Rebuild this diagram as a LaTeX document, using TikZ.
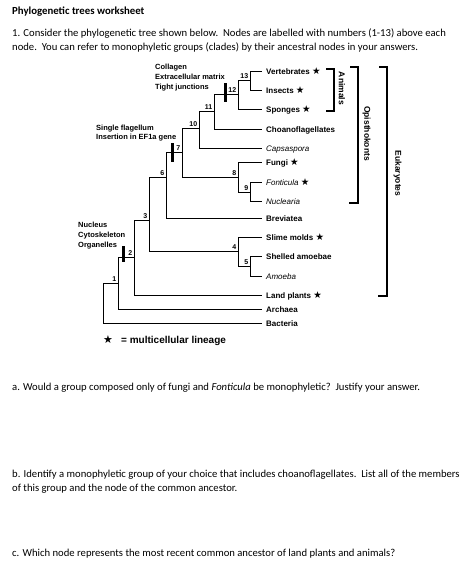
\documentclass[tikz,border=0pt]{standalone}
\usepackage{fontspec}
\setmainfont{Carlito}
\newfontfamily\arialfont{Liberation Sans}
\newfontfamily\symfont{DejaVu Sans}
\newcommand\mstar{{\symfont\fontsize{9.5}{9}\selectfont\char"2605}}
\begin{document}
\begin{tikzpicture}[x=1pt,y=-1pt,
  doc/.style={anchor=base west, inner sep=0, font=\fontsize{10.65}{12}\selectfont},
  leaf/.style={anchor=west, inner xsep=4pt, inner ysep=0, text height=6pt, text depth=0pt, font=\arialfont\bfseries\fontsize{8}{9}\selectfont},
  ileaf/.style={leaf, font=\arialfont\itshape\fontsize{8}{9}\selectfont},
  junc/.style={inner sep=0, minimum size=0},
  num/.style={font=\arialfont\bfseries\fontsize{7}{8}\selectfont, inner sep=1pt, label distance=0.5pt},
  edge/.style={line width=0.8pt},
  charbar/.style={line width=3pt},
  charlab/.style={anchor=west, inner sep=0, align=left, font=\arialfont\bfseries\fontsize{7.5}{9.6}\selectfont},
  brk/.style={line width=1.4pt},
  brklab/.style={rotate=-90, inner sep=0, font=\arialfont\bfseries\fontsize{8.5}{9}\selectfont}
]
\useasboundingbox[fill=white] (0,0) rectangle (474,563);

% document text
\node[doc, font=\bfseries\fontsize{10.8}{12}\selectfont] (title) at (12,14.5) {Phylogenetic trees worksheet};
\node[doc] (l1) at (12,36.5) {1. Consider the phylogenetic tree shown below.\ \ Nodes are labelled with numbers (1-13) above each};
\node[doc] (l2) at (12,50.5) {node.\ \ You can refer to monophyletic groups (clades) by their ancestral nodes in your answers.};
\node[doc] (qa) at (12,390.5) {a. Would a group composed only of fungi and \textit{Fonticula} be monophyletic?\ \ Justify your answer.};
\node[doc] (qb1) at (12,477.5) {b. Identify a monophyletic group of your choice that includes choanoflagellates.\ \ List all of the members};
\node[doc] (qb2) at (12,491) {of this group and the node of the common ancestor.};
\node[doc] (qc) at (12,556.5) {c. Which node represents the most recent common ancestor of land plants and animals?};

% leaves
\node[leaf] (vert) at (262,71) {Vertebrates \mstar};
\node[leaf] (insect) at (262,90) {Insects \mstar};
\node[leaf] (spong) at (262,109) {Sponges \mstar};
\node[leaf] (choano) at (262,129) {Choanoflagellates};
\node[ileaf] (caps) at (262,148) {Capsaspora};
\node[leaf] (fungi) at (262,162) {Fungi \mstar};
\node[ileaf] (fonti) at (262,182) {Fonticula \mstar};
\node[ileaf] (nucl) at (262,201) {Nuclearia};
\node[leaf] (brev) at (262,218) {Breviatea};
\node[leaf] (slime) at (262,237) {Slime molds \mstar};
\node[leaf] (shell) at (262,256) {Shelled amoebae};
\node[ileaf] (amoeba) at (262,276) {Amoeba};
\node[leaf] (plants) at (262,295) {Land plants \mstar};
\node[leaf] (arch) at (262,309) {Archaea};
\node[leaf] (bact) at (262,323) {Bacteria};

% internal nodes
\node[junc] (root) at (103,303) {};
\node[junc, label={[num]above left:1}] (n1) at (118,283) {};
\node[junc, label={[num]above left:2}] (n2) at (134,257) {};
\node[junc, label={[num]above left:3}] (n3) at (149,220) {};
\node[junc, label={[num]above left:4}] (n4) at (238,251) {};
\node[junc, label={[num]above left:5}] (n5) at (250,266) {};
\node[junc, label={[num]above left:6}] (n6) at (166,177) {};
\node[junc, label={[num]above left:7}] (n7) at (182,152) {};
\node[junc, label={[num]above left:8}] (n8) at (238,177) {};
\node[junc, label={[num]above left:9}] (n9) at (250,192) {};
\node[junc, label={[num]above left:10}] (n10) at (199,128) {};
\node[junc, label={[num]above left:11}] (n11) at (214,111) {};
\node[junc, label={[num]above left:12}] (n12) at (238,94) {};
\node[junc, label={[num]above left:13}] (n13) at (250,80) {};

% edges
\draw[edge] (root) |- (n1);   \draw[edge] (root) |- (bact.west);
\draw[edge] (n1) |- (n2);     \draw[edge] (n1) |- (arch.west);
\draw[edge] (n2) |- (n3);     \draw[edge] (n2) |- (plants.west);
\draw[edge] (n3) |- (n6);     \draw[edge] (n3) |- (n4);
\draw[edge] (n6) |- (n7);     \draw[edge] (n6) |- (brev.west);
\draw[edge] (n7) |- (n10);    \draw[edge] (n7) |- (n8);
\draw[edge] (n10) |- (n11);   \draw[edge] (n10) |- (caps.west);
\draw[edge] (n11) |- (n12);   \draw[edge] (n11) |- (choano.west);
\draw[edge] (n12) |- (n13);   \draw[edge] (n12) |- (spong.west);
\draw[edge] (n13) |- (vert.west); \draw[edge] (n13) |- (insect.west);
\draw[edge] (n8) |- (fungi.west); \draw[edge] (n8) |- (n9);
\draw[edge] (n9) |- (fonti.west); \draw[edge] (n9) |- (nucl.west);
\draw[edge] (n4) |- (slime.west); \draw[edge] (n4) |- (n5);
\draw[edge] (n5) |- (shell.west); \draw[edge] (n5) |- (amoeba.west);

% character bars
\draw[charbar] (225.5,83) -- (225.5,102);
\draw[charbar] (172,143) -- (172,162);
\draw[charbar] (123,246) -- (123,262);

% character labels
\node[charlab] (c12) at (155,77.5) {Collagen\\Extracellular matrix\\Tight junctions};
\node[charlab] (c7) at (96,133) {Single flagellum\\Insertion in EF1a gene};
\node[charlab] (c2) at (78,235.5) {Nucleus\\Cytoskeleton\\Organelles};

% brackets
\draw[brk] (326,69) -- (334,69) -- (334,111) -- (326,111);
\draw[brk] (350,67) -- (358,67) -- (358,203) -- (349,203);
\draw[brk] (379,67) -- (387,67) -- (387,296) -- (378,296);
\node[brklab] (animals) at (342,88.5) {Animals};
\node[brklab] (opis) at (366.5,133.5) {Opisthokonts};
\node[brklab] (euk) at (397.5,173.5) {Eukaryotes};

% legend
\node[inner sep=0, font=\symfont\fontsize{11}{11}\selectfont] (lstar) at (108,340) {\char"2605};
\node[anchor=west, inner sep=0, font=\arialfont\bfseries\fontsize{10}{11}\selectfont] (legtext) at (121,341) {= multicellular lineage};
\end{tikzpicture}
\end{document}
